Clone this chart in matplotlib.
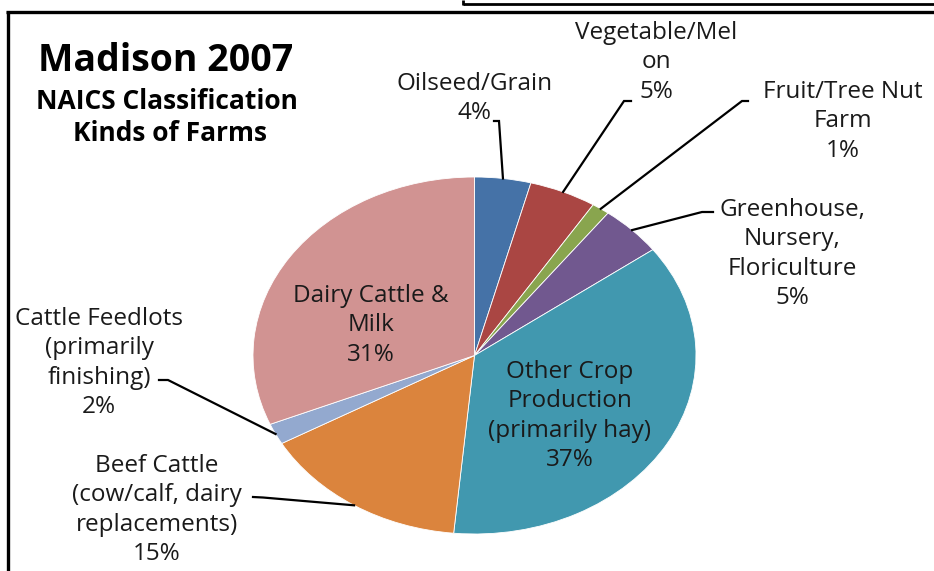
import numpy as np
import matplotlib
matplotlib.use("Agg")
import matplotlib.pyplot as plt
from matplotlib.lines import Line2D

# ---------------- data ----------------
categories = [
    "Oilseed/Grain",
    "Vegetable/Mel\non",
    "Fruit/Tree Nut\nFarm",
    "Greenhouse,\nNursery,\nFloriculture",
    "Other Crop\nProduction\n(primarily hay)",
    "Beef Cattle\n(cow/calf, dairy\nreplacements)",
    "Cattle Feedlots\n(primarily\nfinishing)",
    "Dairy Cattle &\nMilk",
]
shares = [4.1, 4.9, 1.3, 4.6, 36.6, 15.3, 1.9, 31.3]
pct_labels = ["4%", "5%", "1%", "5%", "37%", "15%", "2%", "31%"]
colors = ["#4572A7", "#AA4643", "#89A54E", "#71588F",
          "#4198AF", "#DB843D", "#93A9CF", "#D19392"]
title_lines = ["Madison 2007", "NAICS Classification", "Kinds of Farms"]

# ---------------- layout (pixels) ----------------
W, H = 934, 571
CX, CY, RX, RY = 474.5, 355.5, 221.5, 178.5
FONT = "Open Sans"
LBL_SIZE = 17.5
LINE_STEP = 29.4

# label block: (center x, baseline of first line)
label_pos = [
    (475, 90),
    (656, 39),
    (843, 98),
    (792, 216),
    (570, 378),
    (157, 472),
    (99, 325),
    (371, 302),
]
# leader: (tick start, tick end) in px; the line then goes from tick end to wedge
leaders = {
    0: ((494, 121), (499, 121)),
    1: ((631, 101), (624, 101)),
    2: ((748, 101), (742, 101)),
    3: ((713, 212), (702, 212)),
    5: ((253, 497), (263, 497.5)),
    6: ((159, 380), (168, 380)),
}

fig = plt.figure(figsize=(W / 100, H / 100), dpi=100)
ax = fig.add_axes([0, 0, 1, 1])
wedges, _ = ax.pie(shares, colors=colors, startangle=90, counterclock=False,
                   radius=1, center=(0, 0),
                   wedgeprops=dict(edgecolor="white", linewidth=0.6))
ax.set_aspect("auto")
ax.set_xlim(-CX / RX, (W - CX) / RX)
ax.set_ylim((CY - H) / RY, CY / RY)
ax.axis("off")


def to_data(px, py):
    return (px - CX) / RX, (CY - py) / RY


# labels
for i, (cat, pct) in enumerate(zip(categories, pct_labels)):
    lines = cat.split("\n") + [pct]
    x0, y0 = label_pos[i]
    for k, line in enumerate(lines):
        dx, dy = to_data(x0, y0 + k * LINE_STEP)
        ax.text(dx, dy, line, ha="center", va="baseline", fontsize=LBL_SIZE,
                family=FONT, color="#1a1a1a")

# leader lines to mid-angle of wedge
cum = np.cumsum([0] + shares[:-1])
total = sum(shares)
for i, ((t0, t1)) in leaders.items():
    mid = (cum[i] + shares[i] / 2) / total
    ang = np.deg2rad(90 - 360 * mid)
    ex, ey = np.cos(ang), np.sin(ang)
    a = to_data(*t0)
    b = to_data(*t1)
    ax.plot([a[0], b[0], ex], [a[1], b[1], ey], color="black", lw=1.6,
            solid_joinstyle="miter")

# title
title_specs = [(166, 71, 27), (167, 109, 19), (170, 141, 19)]
for text, (x0, y0, fs) in zip(title_lines, title_specs):
    dx, dy = to_data(x0, y0)
    ax.text(dx, dy, text, ha="center", va="baseline", fontsize=fs,
            family=FONT, fontweight="bold", color="black")

# frame lines (figure coords)
def fl(x, y, lw):
    fig.add_artist(Line2D([p / W for p in x], [1 - q / H for q in y],
                          color="black", lw=lw, solid_capstyle="butt"))

fl([6, 934], [11.5, 11.5], 2.4)
fl([8, 8], [10.5, 571], 2.4)
fl([463, 934], [3.5, 3.5], 2.0)
fl([463, 463], [0, 4.5], 2.0)

fig.savefig("out.png", dpi=100)
